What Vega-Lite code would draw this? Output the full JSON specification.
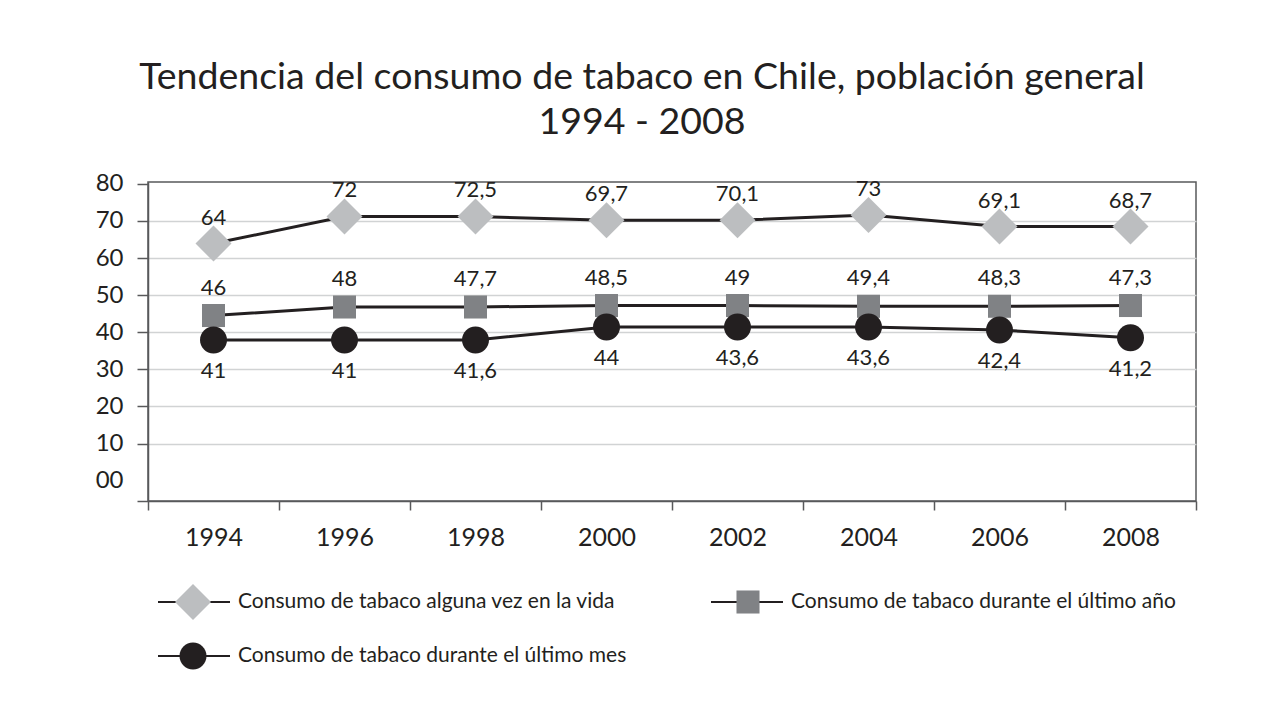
{
  "$schema": "https://vega.github.io/schema/vega-lite/v6.json",
  "width": 1048,
  "height": 319,
  "autosize": {"type": "none"},
  "padding": {"left": 148, "top": 182, "right": 71, "bottom": 203},
  "background": "white",
  "config": {
    "font": "Lato",
    "view": {"stroke": "#58595b", "strokeWidth": 1.5},
    "text": {"font": "Lato"}
  },
  "title": {
    "text": ["Tendencia del consumo de tabaco en Chile, población general", "1994 - 2008"],
    "font": "Lato",
    "fontSize": 37.5,
    "fontWeight": "normal",
    "color": "#231f20",
    "lineHeight": 45,
    "offset": 30,
    "dx": -30,
    "anchor": "middle"
  },
  "data": {
    "values": [
      {"anio": "1994", "s": "Consumo de tabaco alguna vez en la vida", "v": 63.9, "lab": "64"},
      {"anio": "1996", "s": "Consumo de tabaco alguna vez en la vida", "v": 71.2, "lab": "72"},
      {"anio": "1998", "s": "Consumo de tabaco alguna vez en la vida", "v": 71.2, "lab": "72,5"},
      {"anio": "2000", "s": "Consumo de tabaco alguna vez en la vida", "v": 70.2, "lab": "69,7"},
      {"anio": "2002", "s": "Consumo de tabaco alguna vez en la vida", "v": 70.2, "lab": "70,1"},
      {"anio": "2004", "s": "Consumo de tabaco alguna vez en la vida", "v": 71.6, "lab": "73"},
      {"anio": "2006", "s": "Consumo de tabaco alguna vez en la vida", "v": 68.5, "lab": "69,1"},
      {"anio": "2008", "s": "Consumo de tabaco alguna vez en la vida", "v": 68.5, "lab": "68,7"},
      {"anio": "1994", "s": "Consumo de tabaco durante el último año", "v": 44.5, "lab": "46"},
      {"anio": "1996", "s": "Consumo de tabaco durante el último año", "v": 46.8, "lab": "48"},
      {"anio": "1998", "s": "Consumo de tabaco durante el último año", "v": 46.8, "lab": "47,7"},
      {"anio": "2000", "s": "Consumo de tabaco durante el último año", "v": 47.2, "lab": "48,5"},
      {"anio": "2002", "s": "Consumo de tabaco durante el último año", "v": 47.2, "lab": "49"},
      {"anio": "2004", "s": "Consumo de tabaco durante el último año", "v": 47.0, "lab": "49,4"},
      {"anio": "2006", "s": "Consumo de tabaco durante el último año", "v": 47.0, "lab": "48,3"},
      {"anio": "2008", "s": "Consumo de tabaco durante el último año", "v": 47.2, "lab": "47,3"},
      {"anio": "1994", "s": "Consumo de tabaco durante el último mes", "v": 37.9, "lab": "41"},
      {"anio": "1996", "s": "Consumo de tabaco durante el último mes", "v": 37.9, "lab": "41"},
      {"anio": "1998", "s": "Consumo de tabaco durante el último mes", "v": 37.9, "lab": "41,6"},
      {"anio": "2000", "s": "Consumo de tabaco durante el último mes", "v": 41.4, "lab": "44"},
      {"anio": "2002", "s": "Consumo de tabaco durante el último mes", "v": 41.4, "lab": "43,6"},
      {"anio": "2004", "s": "Consumo de tabaco durante el último mes", "v": 41.4, "lab": "43,6"},
      {"anio": "2006", "s": "Consumo de tabaco durante el último mes", "v": 40.6, "lab": "42,4"},
      {"anio": "2008", "s": "Consumo de tabaco durante el último mes", "v": 38.5, "lab": "41,2"}
    ]
  },
  "encoding": {
    "x": {
      "field": "anio",
      "type": "ordinal",
      "scale": {"type": "band", "paddingInner": 0, "paddingOuter": 0},
      "axis": {
        "title": null,
        "labelAngle": 0,
        "labelFont": "Lato",
        "labelFontSize": 25,
        "labelColor": "#231f20",
        "labelPadding": 15,
        "tickBand": "extent",
        "tickExtra": true,
        "tickSize": 9,
        "tickColor": "#58595b",
        "tickWidth": 1.5,
        "domainColor": "#58595b",
        "domainWidth": 1.5,
        "grid": false
      }
    },
    "y": {
      "field": "v",
      "type": "quantitative",
      "scale": {"domain": [-5.5, 80.5], "nice": false, "zero": false},
      "axis": {
        "title": null,
        "values": [-5.5, 0, 10, 20, 30, 40, 50, 60, 70, 80],
        "labelExpr": "datum.value < 0 ? '' : (datum.value == 0 ? '00' : datum.label)",
        "labelFont": "Lato",
        "labelFontSize": 24,
        "labelColor": "#231f20",
        "labelPadding": 14,
        "tickSize": 11,
        "tickWidth": 1.5,
        "tickColor": {"condition": {"test": "datum.value == 0", "value": "transparent"}, "value": "#58595b"},
        "domainColor": "#58595b",
        "domainWidth": 1.5,
        "grid": true,
        "gridColor": {"condition": {"test": "datum.value <= 0 || datum.value >= 80", "value": "transparent"}, "value": "#d1d3d4"},
        "gridWidth": 1.5
      }
    }
  },
  "layer": [
    {
      "mark": {"type": "line", "strokeWidth": 3},
      "encoding": {
        "stroke": {
          "field": "s",
          "type": "nominal",
          "scale": {
            "domain": ["Consumo de tabaco alguna vez en la vida", "Consumo de tabaco durante el último año", "Consumo de tabaco durante el último mes"],
            "range": ["#231f20", "#231f20", "#231f20"]
          },
          "legend": {
            "title": null,
            "orient": "none",
            "direction": "horizontal",
            "legendX": 9,
            "legendY": 400,
            "columns": 2,
            "columnPadding": 83,
            "rowPadding": 14,
            "clipHeight": 40,
            "padding": 0,
            "symbolType": "stroke",
            "symbolSize": 5184,
            "symbolStrokeWidth": 2,
            "labelFont": "Lato",
            "labelFontSize": 21,
            "labelColor": "#231f20",
            "labelOffset": 7,
            "labelLimit": 1000
          }
        }
      }
    },
    {
      "mark": {"type": "point", "filled": true, "opacity": 1, "size": 5184, "strokeWidth": 0},
      "encoding": {
        "fill": {
          "field": "s",
          "type": "nominal",
          "scale": {"range": ["#bcbec0", "#808285", "#231f20"]},
          "legend": {
            "title": null,
            "orient": "none",
            "direction": "horizontal",
            "legendX": 9,
            "legendY": 400,
            "columns": 2,
            "columnPadding": 476,
            "rowPadding": 14,
            "clipHeight": 40,
            "padding": 0,
            "symbolSize": 5184,
            "symbolStrokeWidth": 0,
            "symbolOpacity": 1,
            "labelExpr": "''",
            "labelFontSize": 21,
            "labelOpacity": 0,
            "labelOffset": 7,
            "labelLimit": 1000
          }
        },
        "shape": {
          "field": "s",
          "type": "nominal",
          "scale": {
            "range": [
              "M0,-0.5L0.5,0L0,0.5L-0.5,0Z",
              "M-0.32,-0.32H0.32V0.32H-0.32Z",
              "M-0.375,0A0.375,0.375,0,1,0,0.375,0A0.375,0.375,0,1,0,-0.375,0Z"
            ]
          },
          "legend": {
            "title": null,
            "orient": "none",
            "direction": "horizontal",
            "legendX": 9,
            "legendY": 400,
            "columns": 2,
            "columnPadding": 476,
            "rowPadding": 14,
            "clipHeight": 40,
            "padding": 0,
            "symbolSize": 5184,
            "symbolStrokeWidth": 0,
            "symbolOpacity": 1,
            "labelExpr": "''",
            "labelFontSize": 21,
            "labelOpacity": 0,
            "labelOffset": 7,
            "labelLimit": 1000
          }
        }
      }
    },
    {
      "transform": [{"filter": "datum.s == 'Consumo de tabaco alguna vez en la vida'"}],
      "mark": {"type": "text", "font": "Lato", "fontSize": 22, "color": "#231f20", "dy": -26},
      "encoding": {"text": {"field": "lab", "type": "nominal"}}
    },
    {
      "transform": [{"filter": "datum.s == 'Consumo de tabaco durante el último año'"}],
      "mark": {"type": "text", "font": "Lato", "fontSize": 22, "color": "#231f20", "dy": -28},
      "encoding": {"text": {"field": "lab", "type": "nominal"}}
    },
    {
      "transform": [{"filter": "datum.s == 'Consumo de tabaco durante el último mes'"}],
      "mark": {"type": "text", "font": "Lato", "fontSize": 22, "color": "#231f20", "dy": 31},
      "encoding": {"text": {"field": "lab", "type": "nominal"}}
    }
  ]
}
